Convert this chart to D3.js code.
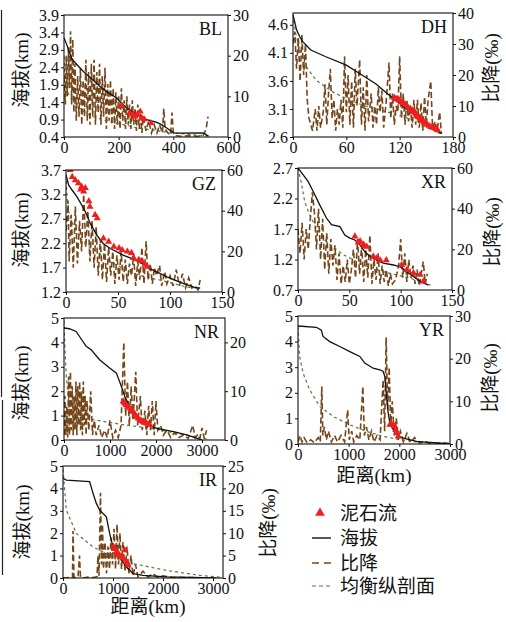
<!DOCTYPE html>
<html><head><meta charset="utf-8">
<script src="https://cdn.jsdelivr.net/npm/d3@7"></script>
<style>body{margin:0;background:#fff}svg{display:block}</style>
</head><body>
<svg id="c" width="506" height="622"></svg>
<script>
// ---------------- DATA ----------------
// elevation profiles [distance km, elevation km]
const blElev = [[0,3.25],[10,3.05],[28,2.65],[50,2.45],[71,2.28],[100,2.08],[132,1.85],[160,1.68],[193,1.52],[211,1.36],[235,1.2],[254,1.09],[280,0.98],[303,0.9],[340,0.82],[360,0.74],[376,0.66],[401,0.52],[420,0.51],[500,0.52],[512,0.51],[529,0.42]];
const dhElev = [[0,4.78],[4,4.51],[7.5,4.39],[11,4.3],[20,4.15],[37,4.03],[60,3.88],[78,3.7],[93,3.55],[108,3.35],[127,3.11],[142,2.93],[153,2.81],[164,2.69],[167,2.66]];
const gzElev = [[0,3.6],[2.6,3.39],[5.8,3.29],[10.6,3.15],[17,2.91],[20,2.78],[23.4,2.6],[29.8,2.36],[36,2.19],[42.6,2.09],[55.4,1.95],[68,1.85],[81,1.68],[97,1.51],[113,1.37],[123,1.3],[129,1.28]];
const xrElev = [[0,2.7],[4.9,2.59],[9.8,2.48],[14.7,2.32],[21,2.1],[27.7,1.88],[32.6,1.77],[40.8,1.74],[45.6,1.6],[50.5,1.55],[55.4,1.52],[60.3,1.44],[65,1.33],[70,1.25],[76.6,1.19],[83,1.14],[93,1.11],[99.4,1.08],[106,1.0],[112.5,0.92],[119,0.84],[127,0.78]];
const nrElev = [[0,4.59],[116,4.56],[263,4.45],[482,3.84],[591,3.7],[774,3.29],[993,2.95],[1139,2.74],[1248,2.19],[1321,1.78],[1504,1.1],[1650,0.82],[1796,0.62],[2015,0.48],[2380,0.34],[2672,0.21],[2891,0.07],[3000,0.0]];
const yrElev = [[0,4.61],[363,4.56],[461,4.45],[494,4.2],[626,4.0],[824,3.81],[1022,3.61],[1220,3.42],[1318,3.16],[1483,2.96],[1615,2.9],[1681,2.83],[1714,2.64],[1747,1.86],[1780,1.21],[1813,0.82],[1879,0.56],[1945,0.36],[2077,0.23],[2340,0.1],[2735,0.04],[3000,0.01]];
const irElev = [[0,4.45],[67,4.37],[533,4.3],[600,3.78],[667,3.33],[733,3.03],[867,2.73],[933,1.99],[1000,1.39],[1133,0.94],[1267,0.49],[1400,0.19],[1600,0.12],[2067,0.05],[3067,0.01]];

// slope (比降, ‰) [distance km, slope]
const blSlope = [[0,15],[5,8],[8,20],[12,10],[16,22],[20,12],[24,26],[28,8],[32,24],[36,6],[40,18],[45,4],[50,15],[55,5],[60,17],[65,3],[70,14],[75,5],[80,19],[85,4],[90,16],[95,3],[100,18],[105,5],[110,19],[115,3],[120,16],[125,6],[130,18],[135,3],[140,15],[145,5],[150,17],[155,2],[160,13],[165,4],[170,14],[175,3],[180,12],[185,2],[190,11],[195,3],[200,10],[205,2],[210,12],[215,4],[220,9],[225,2],[230,10],[235,3],[240,8],[245,2],[250,9],[255,3],[260,7],[265,1.5],[270,8],[275,2],[280,6],[285,1],[290,5],[300,1.5],[310,4],[320,1],[330,3],[340,1],[350,3],[360,1],[365,7],[370,2],[380,1],[390,0.5],[395,6],[400,1],[410,0.3],[430,0.2],[460,0.3],[490,0.2],[510,0.5],[520,2],[527,5]];
const dhSlope = [[0,30],[2,34],[4,22],[6,32],[8,18],[10,33],[12,20],[14,30],[16,12],[18,6],[20,4],[22,2],[25,9],[27,2],[29,10],[31,3],[34,8],[36,17],[38,4],[40,14],[42,22],[44,6],[46,12],[48,2],[50,9],[52,4],[54,12],[56,3],[58,26],[60,8],[62,20],[64,4],[66,18],[68,3],[70,22],[72,10],[75,25],[77,4],[79,16],[81,2],[83,20],[85,5],[88,14],[90,3],[92,10],[94,4],[96,16],[98,8],[100,15],[102,3],[105,12],[108,24],[110,6],[112,14],[114,4],[116,10],[118,8],[120,26],[122,6],[124,14],[126,4],[128,12],[130,5],[132,10],[134,3],[136,12],[138,4],[140,12],[142,3],[144,11],[146,2],[148,13],[150,4],[152,12],[155,18],[157,3],[160,5],[162,2],[165,8],[167,1]];
const gzSlope = [[0,30],[2,45],[3,15],[5,38],[7,12],[9,42],[11,14],[13,35],[15,20],[17,48],[19,22],[21,40],[23,15],[25,35],[27,12],[29,32],[31,8],[33,26],[35,6],[37,24],[39,5],[41,22],[43,8],[45,20],[47,4],[49,18],[51,6],[53,20],[55,5],[57,16],[59,4],[61,14],[63,8],[65,18],[67,3],[69,15],[71,6],[73,22],[75,4],[77,25],[79,6],[81,14],[83,4],[85,12],[87,8],[90,13],[92,3],[95,10],[97,4],[100,8],[103,3],[106,11],[109,3],[112,9],[115,2],[118,7],[121,2],[124,3],[127,1],[129,6]];
const xrSlope = [[0,30],[2,18],[4,33],[6,15],[8,30],[10,20],[12,35],[14,48],[16,38],[18,20],[20,40],[22,15],[24,35],[26,10],[28,28],[30,8],[32,25],[34,12],[36,22],[38,5],[40,18],[42,3],[44,12],[46,4],[48,15],[50,3],[52,10],[54,20],[56,6],[58,25],[60,8],[62,22],[64,4],[66,20],[68,6],[70,27],[72,3],[74,15],[76,5],[78,18],[80,3],[82,12],[84,4],[86,10],[88,2],[90,8],[92,3],[95,5],[98,12],[100,25],[102,6],[104,18],[106,4],[108,15],[110,6],[112,12],[114,3],[116,10],[118,2],[120,8],[122,14],[124,3],[126,8]];
const nrSlope = [[0,1],[20,9],[40,1],[60,7],[80,0.5],[100,13],[120,1],[140,14],[160,2],[180,11],[200,1],[220,9],[240,2],[260,12],[280,1],[300,11],[320,3],[340,12],[360,2],[380,10],[400,1],[420,12],[440,3],[460,9],[480,1],[500,8],[540,2],[580,10],[620,1],[660,4],[700,1],[760,3],[820,0.5],[880,2],[940,0.5],[1000,4],[1060,0.5],[1120,2],[1180,0.5],[1240,3],[1300,20],[1340,5],[1380,12],[1420,3],[1460,11],[1500,4],[1560,14],[1600,3],[1660,9],[1700,2],[1760,6],[1800,1],[1840,7],[1880,2],[1920,8],[1960,1],[2000,8],[2040,2],[2100,3],[2160,1],[2240,2],[2320,0.5],[2400,1.5],[2500,0.5],[2600,1],[2700,0.3],[2800,3],[2850,0.5],[2900,1],[2950,0.2],[3000,2.5],[3050,0.3],[3100,2]];
const yrSlope = [[0,0.5],[40,2],[80,0.5],[120,1.5],[180,0.3],[250,1],[320,0.3],[400,1.5],[440,0.5],[470,13.5],[490,2],[520,4],[560,1],[600,3],[660,0.5],[720,2],[780,0.5],[850,2],[920,0.5],[980,8],[1010,1],[1060,3],[1100,0.5],[1160,2],[1220,1],[1280,13.5],[1310,2],[1350,4],[1400,1],[1450,3],[1500,0.5],[1560,2],[1620,1],[1680,15],[1710,3],[1740,25],[1770,8],[1800,18],[1830,4],[1860,10],[1900,2],[1940,6],[1980,1],[2020,3],[2080,0.5],[2150,2.5],[2220,0.3],[2300,1.5],[2400,0.2],[2500,0.6],[2600,0.1],[2700,0.3],[2800,0.1],[2900,0.2],[3000,0.1]];
const irSlope = [[0,0],[150,0.1],[190,0],[200,10.5],[220,0.2],[260,0],[300,0.2],[330,5],[350,0.1],[400,0],[500,0.2],[600,0.1],[680,0.3],[700,5],[720,0.5],[750,19],[770,3],[790,12],[810,2],[840,8],[870,1],[900,7],[930,2],[960,9],[990,3],[1020,11],[1050,2],[1080,12],[1110,3],[1140,10],[1170,2],[1200,8],[1240,1.5],[1280,7],[1320,1],[1360,5],[1400,0.5],[1450,3],[1500,0.3],[1600,1.5],[1700,0.2],[1800,1],[1900,0.1],[2000,0.5],[2200,0.1],[2500,0.1],[3000,0]];

// equilibrium profile (均衡纵剖面) [distance km, elevation km]
const blEquil = [[0,2.7],[4,2.0],[12,1.7],[30,1.45],[60,1.2],[100,1.0],[150,0.88],[200,0.78],[260,0.68],[320,0.6],[400,0.52],[460,0.47],[530,0.43]];
const dhEquil = [[0,4.78],[3,4.45],[7.5,4.15],[15,3.85],[26,3.61],[45,3.4],[63,3.26],[80,3.16],[101,3.07],[120,2.98],[142,2.87],[165,2.66]];
const gzEquil = [[0,3.6],[1,3.12],[3,2.8],[5.8,2.64],[10,2.45],[14,2.3],[20,2.15],[30,2.02],[40,1.85],[49,1.75],[60,1.63],[71,1.54],[85,1.47],[97,1.41],[116,1.3],[129,1.28]];
const xrEquil = [[0,2.7],[3,2.48],[6.5,2.15],[11.4,1.93],[18,1.71],[27.7,1.49],[44,1.28],[63.6,1.11],[83,1.0],[103,0.92],[116,0.86],[129,0.78]];
const nrEquil = [[0,4.9],[20,3.8],[50,2.6],[100,1.6],[200,1.05],[400,0.9],[800,0.78],[1200,0.65],[1600,0.55],[2000,0.45],[2500,0.25],[3000,0.08],[3100,0.04]];
const yrEquil = [[0,4.58],[33,3.42],[99,2.77],[231,2.12],[428,1.47],[692,1.08],[1022,0.75],[1352,0.49],[1681,0.3],[2011,0.17],[2340,0.08],[2735,0.04],[3000,0.01]];
const irEquil = [[0,4.85],[67,3.03],[267,1.99],[600,1.39],[1000,0.94],[1400,0.64],[2067,0.34],[2733,0.12],[3133,0.04]];

// debris flows (泥石流) [distance km, elevation km]
const blDebris = [[211,1.3],[240,1.09],[252,1.04],[260,0.99],[269,1.04],[279,1.13],[285,0.94],[293,0.91],[318,0.8]];
const dhDebris = [[114,3.3],[116,3.28],[118,3.27],[120,3.25],[122,3.22],[124,3.2],[126,3.18],[130,3.12],[132,3.1],[134,3.08],[135,3.05],[137,3.04],[138,3.02],[139,3.0],[140,2.98],[142,2.95],[143,2.93],[145,2.9],[146,2.88],[148,2.86],[150,2.84],[151,2.82],[153,2.8],[155,2.78],[157,2.77],[159,2.76],[161,2.74],[163,2.72]];
const gzDebris = [[4,3.7],[6,3.56],[9,3.49],[12,3.43],[15,3.36],[17,3.26],[18.6,3.33],[14,3.3],[22,3.06],[23,2.95],[28,2.78],[30,2.71],[36,2.3],[41,2.23],[46,2.13],[51,2.1],[54,2.06],[59,2.03],[63,2.0],[65,1.9],[70,1.86],[73,1.83],[76,1.76],[78,1.72]];
const xrDebris = [[55.4,1.58],[58.7,1.48],[60.5,1.5],[63.6,1.45],[65,1.42],[67,1.41],[73.4,1.25],[76.6,1.22],[80,1.19],[86,1.19],[101,1.11],[106,1.03],[112.5,0.98],[119,0.95],[122,0.84]];
const nrDebris = [[1285,1.58],[1320,1.5],[1350,1.44],[1390,1.37],[1430,1.3],[1470,1.22],[1504,1.16],[1540,1.05],[1577,0.96],[1610,0.88],[1650,0.82],[1690,0.78],[1723,0.75],[1760,0.71],[1796,0.68],[1830,0.65],[1869,0.62]];
const yrDebris = [[1813,0.75],[1850,0.76],[1879,0.74],[1912,0.69],[1930,0.55],[1945,0.43],[1978,0.3]];
const irDebris = [[1000,1.39],[1030,1.3],[1067,1.16],[1100,1.08],[1133,1.01],[1170,0.94],[1200,0.87],[1233,1.24],[1267,0.72],[1300,0.57]];

// tick labels
const blXTicks = [0,200,400,600], blYLTicks = [0.4,0.9,1.4,1.9,2.4,2.9,3.4,3.9], blYRTicks = [0,10,20,30];
const dhXTicks = [0,60,120,180], dhYLTicks = [2.6,3.1,3.6,4.1,4.6], dhYRTicks = [0,10,20,30,40];
const gzXTicks = [0,50,100,150], gzYLTicks = [1.2,1.7,2.2,2.7,3.2,3.7], gzYRTicks = [0,20,40,60];
const xrXTicks = [0,50,100,150], xrYLTicks = [0.7,1.2,1.7,2.2,2.7], xrYRTicks = [0,20,40,60];
const nrXTicks = [0,1000,2000,3000], nrYLTicks = [0,1,2,3,4,5], nrYRTicks = [0,10,20];
const yrXTicks = [0,1000,2000,3000], yrYLTicks = [0,1,2,3,4,5], yrYRTicks = [0,10,20,30];
const irXTicks = [0,1000,2000,3000], irYLTicks = [0,1,2,3,4,5], irYRTicks = [0,5,10,15,20,25];

const legendLabels = ["泥石流","海拔","比降","均衡纵剖面"];
const elevTitle = "海拔(km)", slopeTitle = "比降(‰)", distTitle = "距离(km)";

// ---------------- DRAW ----------------
const NUM = "'Liberation Serif','Times New Roman',serif";
const CJK = "'Liberation Serif','Noto Sans CJK SC',serif";
const C_BLACK = "#111", C_BROWN = "#74461a", C_GREEN = "#4f7d3b", C_RED = "#f01e1e";
const svg = d3.select("#c");

const panels = [
  {name:"BL", l:64, r:228, t:15, b:137, xd:[0,600], yld:[0.4,3.9], yrd:[0,30], xt:blXTicks, ylt:blYLTicks, yrt:blYRTicks, fmt:".1f",
   elev:blElev, slope:blSlope, equil:blEquil, debris:blDebris, lt:[21,70], rt:null},
  {name:"DH", l:293, r:453, t:13, b:137, xd:[0,180], yld:[2.6,4.81], yrd:[0,40], xt:dhXTicks, ylt:dhYLTicks, yrt:dhYRTicks, fmt:".1f",
   elev:dhElev, slope:dhSlope, equil:dhEquil, debris:dhDebris, lt:null, rt:[491,68]},
  {name:"GZ", l:66, r:222, t:170, b:292, xd:[0,150], yld:[1.2,3.7], yrd:[0,60], xt:gzXTicks, ylt:gzYLTicks, yrt:gzYRTicks, fmt:".1f",
   elev:gzElev, slope:gzSlope, equil:gzEquil, debris:gzDebris, lt:[21,230], rt:null},
  {name:"XR", l:298, r:452, t:168, b:290, xd:[0,150], yld:[0.7,2.7], yrd:[0,60], xt:xrXTicks, ylt:xrYLTicks, yrt:xrYRTicks, fmt:".1f",
   elev:xrElev, slope:xrSlope, equil:xrEquil, debris:xrDebris, lt:null, rt:[492,232]},
  {name:"NR", l:64, r:225, t:318, b:440, xd:[0,3500], yld:[0,5], yrd:[0,25], xt:nrXTicks, ylt:nrYLTicks, yrt:nrYRTicks, fmt:"d",
   elev:nrElev, slope:nrSlope, equil:nrEquil, debris:nrDebris, lt:[21,383], rt:null},
  {name:"YR", l:298, r:450, t:316, b:444, xd:[0,3000], yld:[0,5], yrd:[0,30], xt:yrXTicks, ylt:yrYLTicks, yrt:yrYRTicks, fmt:"d",
   elev:yrElev, slope:yrSlope, equil:yrEquil, debris:yrDebris, lt:null, rt:[490,378], xt2:[374,482]},
  {name:"IR", l:63, r:223, t:466, b:578, xd:[0,3200], yld:[0,5], yrd:[0,25], xt:irXTicks, ylt:irYLTicks, yrt:irYRTicks, fmt:"d",
   elev:irElev, slope:irSlope, equil:irEquil, debris:irDebris, lt:[22,522], rt:[268,523], xt2:[148,613]}
];

// left margin bars
svg.append("line").attr("x1",1.5).attr("x2",1.5).attr("y1",10).attr("y2",397).attr("stroke","#222").attr("stroke-width",1.2);
svg.append("line").attr("x1",2.5).attr("x2",2.5).attr("y1",400).attr("y2",575).attr("stroke","#222").attr("stroke-width",1.2);

panels.forEach((p,i) => {
  const g = svg.append("g");
  const x = d3.scaleLinear().domain(p.xd).range([p.l,p.r]);
  const yL = d3.scaleLinear().domain(p.yld).range([p.b,p.t]);
  const yR = d3.scaleLinear().domain(p.yrd).range([p.b,p.t]);
  const cid = "clip"+i;
  svg.append("clipPath").attr("id",cid).append("rect")
    .attr("x",p.l).attr("y",p.t).attr("width",p.r-p.l).attr("height",p.b-p.t);
  const plot = g.append("g").attr("clip-path",`url(#${cid})`);

  const lineL = d3.line().x(d=>x(d[0])).y(d=>yL(d[1]));
  const lineR = d3.line().x(d=>x(d[0])).y(d=>yR(d[1]));

  plot.append("path").datum(p.equil).attr("d",lineL).attr("fill","none")
    .attr("stroke",C_GREEN).attr("stroke-width",1.2).attr("stroke-dasharray","3,3");
  plot.append("path").datum(p.slope).attr("d",lineR).attr("fill","none")
    .attr("stroke",C_BROWN).attr("stroke-width",1.6).attr("stroke-dasharray","6,3");
  plot.append("path").datum(p.elev).attr("d",lineL).attr("fill","none")
    .attr("stroke",C_BLACK).attr("stroke-width",1.3);
  plot.selectAll(".tri").data(p.debris).enter().append("path")
    .attr("d",d3.symbol().type(d3.symbolTriangle).size(22))
    .attr("transform",d=>`translate(${x(d[0])},${yL(d[1])})`)
    .attr("fill",C_RED);

  // frame
  g.append("rect").attr("x",p.l).attr("y",p.t).attr("width",p.r-p.l).attr("height",p.b-p.t)
    .attr("fill","none").attr("stroke","#111").attr("stroke-width",1.1);

  const styleAxis = sel => {
    sel.select(".domain").remove();
    sel.selectAll("line").attr("stroke","#111");
    sel.selectAll("text").attr("font-family",NUM).attr("font-size",16).attr("fill","#111");
  };
  g.append("g").attr("transform",`translate(0,${p.b})`)
    .call(d3.axisBottom(x).tickValues(p.xt).tickSize(3).tickPadding(2).tickFormat(d3.format("d"))).call(styleAxis);
  g.append("g").attr("transform",`translate(${p.l},0)`)
    .call(d3.axisLeft(yL).tickValues(p.ylt).tickSize(3).tickPadding(2).tickFormat(d3.format(p.fmt))).call(styleAxis);
  g.append("g").attr("transform",`translate(${p.r},0)`)
    .call(d3.axisRight(yR).tickValues(p.yrt).tickSize(3).tickPadding(2).tickFormat(d3.format("d"))).call(styleAxis);

  g.append("text").attr("x",p.r-6).attr("y",p.t+20).attr("text-anchor","end")
    .attr("font-family",NUM).attr("font-size",18).attr("fill","#111").text(p.name);

  if (p.lt) g.append("text").attr("transform",`translate(${p.lt[0]},${p.lt[1]}) rotate(-90)`)
    .attr("text-anchor","middle").attr("dominant-baseline","central")
    .attr("font-family",CJK).attr("font-size",19).attr("fill","#111").text(elevTitle);
  if (p.rt) g.append("text").attr("transform",`translate(${p.rt[0]},${p.rt[1]}) rotate(-90)`)
    .attr("text-anchor","middle").attr("dominant-baseline","central")
    .attr("font-family",CJK).attr("font-size",19).attr("fill","#111").text(slopeTitle);
  if (p.xt2) g.append("text").attr("x",p.xt2[0]).attr("y",p.xt2[1]).attr("text-anchor","middle")
    .attr("font-family",CJK).attr("font-size",19).attr("fill","#111").text(distTitle);
});

// legend
const lg = svg.append("g");
const ly = [513, 538, 563, 586];
lg.append("path").attr("d",d3.symbol().type(d3.symbolTriangle).size(40)).attr("transform",`translate(320,${ly[0]})`).attr("fill",C_RED);
lg.append("line").attr("x1",312).attr("x2",331).attr("y1",ly[1]).attr("y2",ly[1]).attr("stroke",C_BLACK).attr("stroke-width",1.4);
lg.append("line").attr("x1",312).attr("x2",331).attr("y1",ly[2]).attr("y2",ly[2]).attr("stroke",C_BROWN).attr("stroke-width",1.6).attr("stroke-dasharray","7,5");
lg.append("line").attr("x1",312).attr("x2",331).attr("y1",ly[3]).attr("y2",ly[3]).attr("stroke",C_GREEN).attr("stroke-width",1.2).attr("stroke-dasharray","4,3");
legendLabels.forEach((t,i)=>{
  lg.append("text").attr("x",340).attr("y",ly[i]).attr("dominant-baseline","central")
    .attr("font-family",CJK).attr("font-size",19).attr("fill","#111").text(t);
});
</script>
</body></html>
